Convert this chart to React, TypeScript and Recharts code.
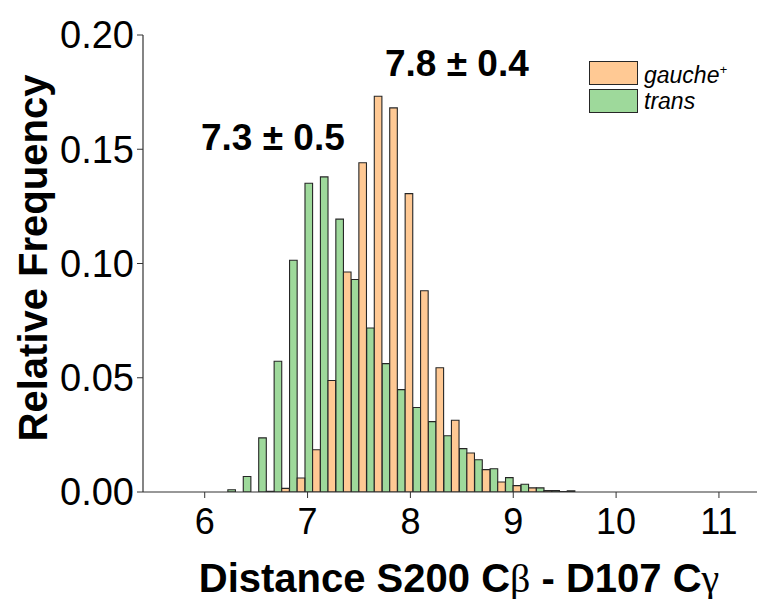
import { BarChart, Bar, XAxis, YAxis } from "recharts";

// bin centres (width 0.15) and relative frequencies
const BINS = [6.3, 6.45, 6.6, 6.75, 6.9, 7.05, 7.2, 7.35, 7.5, 7.65, 7.8, 7.95, 8.1, 8.25, 8.4, 8.55, 8.7, 8.85, 9.0, 9.15, 9.3, 9.45, 9.6];
const TRANS = [0.001, 0.0068, 0.0237, 0.0572, 0.1014, 0.1351, 0.1379, 0.1194, 0.093, 0.0718, 0.0562, 0.0448, 0.037, 0.0308, 0.0246, 0.019, 0.0141, 0.0102, 0.0063, 0.0034, 0.0018, 0.0006, 0.0005];
const GAUCHE = [0, 0, 0.0003, 0.0016, 0.0061, 0.0185, 0.0488, 0.0963, 0.1441, 0.1732, 0.1681, 0.1306, 0.0881, 0.0544, 0.0314, 0.0171, 0.0098, 0.0044, 0.0028, 0.0018, 0.0006, 0.0002, 0];

const X_TICKS = [6, 7, 8, 9, 10, 11];
const X_MINOR = [5.5, 6.5, 7.5, 8.5, 9.5, 10.5];
const Y_TICKS = [0, 0.05, 0.1, 0.15, 0.2];
const Y_MINOR = [0.025, 0.075, 0.125, 0.175];

const ORANGE = "#FFC994";
const GREEN = "#9ED99B";
const EDGE = "#262626";
const AXIS = "#333";
const FONT = "'Liberation Sans', Arial, sans-serif";
const SERIF = "'Liberation Serif', serif";

const data = BINS.map((x, i) => ({ x, trans: TRANS[i], gauche: GAUCHE[i] }));

export default function App() {
  return (
    <div style={{ position: "absolute", left: 0, top: 0, width: 758, height: 599, background: "#fff", fontFamily: FONT }}>
      <BarChart
        width={758}
        height={599}
        data={data}
        margin={{ top: 35, right: 1, left: 0, bottom: 0 }}
        barGap={0}
        barCategoryGap={0}
      >
        {/* minor ticks first so they sit on the plot edge */}
        <XAxis
          xAxisId="minor"
          dataKey="x"
          type="number"
          domain={[5.4, 11.37]}
          allowDataOverflow
          ticks={X_MINOR}
          tickFormatter={() => ""}
          tickSize={3}
          height={0}
          axisLine={false}
          tickLine={{ stroke: AXIS }}
        />
        <XAxis
          xAxisId="top"
          dataKey="x"
          type="number"
          orientation="top"
          domain={[5.4, 11.37]}
          allowDataOverflow
          tick={false}
          tickLine={false}
          height={0}
          axisLine={{ stroke: AXIS, strokeWidth: 1.2 }}
        />
        <YAxis
          yAxisId="minor"
          type="number"
          domain={[0, 0.2]}
          allowDataOverflow
          ticks={Y_MINOR}
          tickFormatter={() => ""}
          mirror
          tickSize={4}
          width={0}
          axisLine={false}
          tickLine={{ stroke: AXIS }}
        />
        <XAxis
          dataKey="x"
          type="number"
          domain={[5.4, 11.37]}
          allowDataOverflow
          ticks={X_TICKS}
          height={107}
          tickSize={6}
          tickMargin={10}
          axisLine={{ stroke: AXIS, strokeWidth: 1.2 }}
          tickLine={{ stroke: AXIS }}
          tick={{ fontSize: 36, fill: "#000", fontFamily: FONT }}
        />
        <YAxis
          type="number"
          domain={[0, 0.2]}
          allowDataOverflow
          ticks={Y_TICKS}
          width={143}
          tickSize={6}
          tickMargin={3}
          tickFormatter={(v: number) => v.toFixed(2)}
          axisLine={{ stroke: AXIS, strokeWidth: 1.2 }}
          tickLine={{ stroke: AXIS }}
          tick={{ fontSize: 38, fill: "#000", fontFamily: FONT }}
        />
        <Bar dataKey="trans" fill={GREEN} stroke={EDGE} strokeWidth={1.1} barSize={7.6} isAnimationActive={false} />
        <Bar dataKey="gauche" fill={ORANGE} stroke={EDGE} strokeWidth={1.1} barSize={7.6} isAnimationActive={false} />
      </BarChart>

      {/* annotations */}
      <div style={{ position: "absolute", left: 385, top: 43, fontSize: 37, fontWeight: 700, whiteSpace: "nowrap" }}>
        7.8 ± 0.4
      </div>
      <div style={{ position: "absolute", left: 201, top: 117, fontSize: 37, fontWeight: 700, whiteSpace: "nowrap" }}>
        7.3 ± 0.5
      </div>

      {/* legend */}
      <div style={{ position: "absolute", left: 589, top: 58, fontSize: 23, fontStyle: "italic", lineHeight: "24px" }}>
        <div style={{ display: "flex", alignItems: "center", marginBottom: 2 }}>
          <span style={{ width: 49, height: 24, background: ORANGE, border: `1.5px solid ${EDGE}`, boxSizing: "border-box", marginRight: 6 }} />
          <span>
            gauche<sup style={{ fontSize: 13, verticalAlign: 9 }}>+</sup>
          </span>
        </div>
        <div style={{ display: "flex", alignItems: "center" }}>
          <span style={{ width: 49, height: 24, background: GREEN, border: `1.5px solid ${EDGE}`, boxSizing: "border-box", marginRight: 6 }} />
          <span>trans</span>
        </div>
      </div>

      {/* axis titles */}
      <div
        style={{
          position: "absolute",
          left: 33,
          top: 258,
          transform: "translate(-50%, -50%) rotate(-90deg)",
          fontSize: 40,
          fontWeight: 700,
          whiteSpace: "nowrap",
        }}
      >
        Relative Frequency
      </div>
      <div
        style={{
          position: "absolute",
          left: 459,
          top: 578,
          transform: "translate(-50%, -50%)",
          fontSize: 40,
          fontWeight: 700,
          whiteSpace: "nowrap",
        }}
      >
        Distance S200 C<span style={{ fontFamily: SERIF, fontWeight: 400 }}>β</span> - D107 C
        <span style={{ fontFamily: SERIF, fontWeight: 400 }}>γ</span>
      </div>
    </div>
  );
}
